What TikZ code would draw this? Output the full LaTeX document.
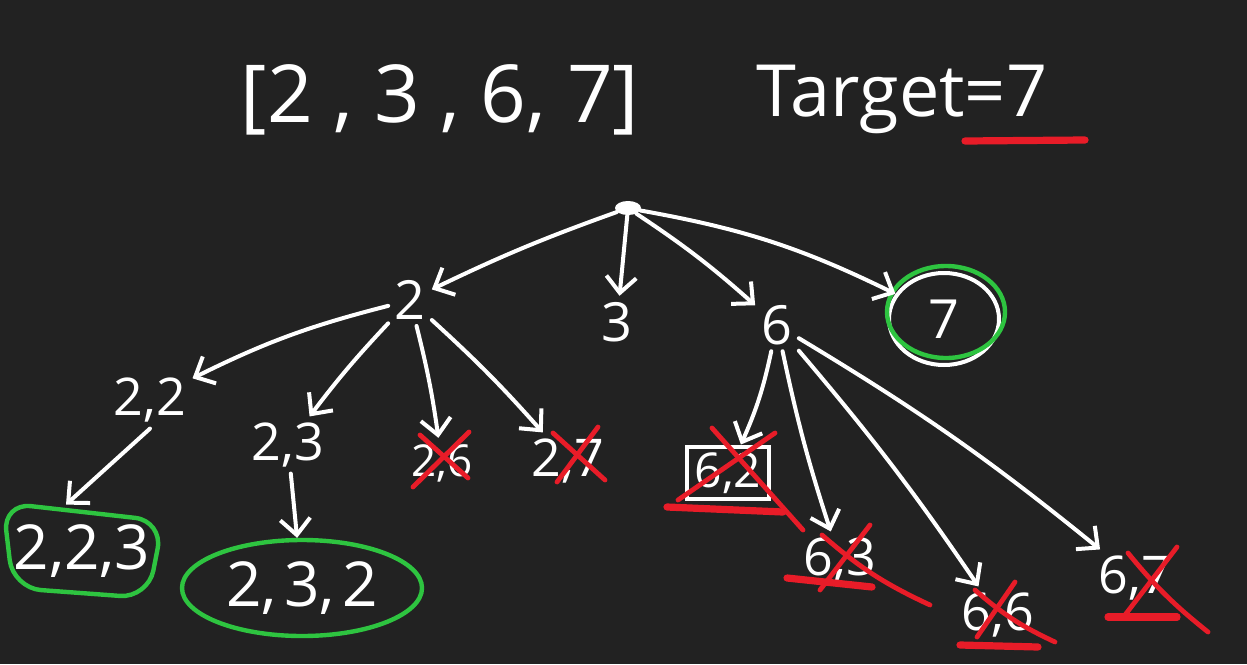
\documentclass[tikz,border=0pt]{standalone}
\usepackage{fontspec}
\setmainfont{Open Sans}
\usetikzlibrary{arrows.meta,shapes.geometric}
\definecolor{bg}{RGB}{34,34,34}
\definecolor{gr}{RGB}{46,196,64}
\definecolor{rd}{RGB}{232,28,40}
\begin{document}
\begin{tikzpicture}[x=0.5pt,y=-0.5pt,
  lbl/.style={text=white, inner sep=3pt},
  arr/.style={draw=white, line width=2pt, line cap=round,
    -{Straight Barb[length=8pt,width=15pt,line width=2pt]}},
  cross/.style={draw=rd, line width=2.4pt, line cap=round},
  uline/.style={draw=rd, line width=3.6pt, line cap=round},
  ring/.style={draw=gr, line width=2.2pt},
  big/.style={font=\fontsize{40}{44}\selectfont},
  tgt/.style={font=\fontsize{36}{40}\selectfont},
  lvone/.style={font=\fontsize{27}{30}\selectfont},
  lvtwo/.style={font=\fontsize{26}{30}\selectfont},
  lvthree/.style={font=\fontsize{31}{34}\selectfont}]
\fill[bg] (0,0) rectangle (1247,664);
\useasboundingbox (0,0) rectangle (1247,664);

% header
\node[lbl,big,anchor=base] (list) at (440,122) {[2 , 3 , 6, 7]};
\node[lbl,tgt,anchor=base] (target) at (902,116) {Target=7};
\draw[uline] (965,141) -- (1085,140);

% root
\node[fill=white, ellipse, minimum width=13pt, minimum height=7pt, inner sep=0pt] (root) at (628,208) {};

% level 1
\node[lbl,lvone] (n2) at (410,300) {2};
\node[lbl,lvone] (n3) at (617,322) {3};
\node[lbl,lvone] (n6) at (777,325) {6};
\node[lbl,lvone, ellipse, draw=white, line width=2pt, minimum width=55pt, minimum height=46pt] (n7) at (944,319) {7};
\draw[ring] (946,312) ellipse [x radius=59, y radius=46];

% level 2
\node[lbl,lvtwo] (n22) at (150,400) {2,2};
\node[lbl,lvtwo] (n23) at (288,445) {2,3};
\node[lbl,font=\fontsize{22}{26}\selectfont] (n26) at (442,463) {2,6};
\node[lbl,lvtwo] (n27) at (568,461) {2,7};
\node[lbl,font=\fontsize{24}{28}\selectfont, draw=white, line width=2pt,
      minimum width=41pt, minimum height=24pt] (n62) at (728,473) {6,2};
\node[lbl,lvtwo] (n63) at (840,560) {6,3};
\node[lbl,lvtwo] (n66) at (998,615) {6,6};
\node[lbl,lvtwo] (n67) at (1135,578) {6,7};

% level 3
\node[lbl,lvthree, minimum width=80pt, minimum height=46pt] (n223) at (82,551) {2,2,3};
\node[lbl,lvthree, ellipse, ring, minimum width=120pt, minimum height=48pt] (n232) at (302,588) {2,\hspace{0.12em}3,\hspace{0.12em}2};
\draw[ring, rounded corners=14pt] (3,503) -- (163,521) -- (148,598) -- (13,588) -- cycle;

% arrows from root
\draw[arr] (root) to[bend right=3] (n2);
\draw[arr] (root) -- (n3);
\draw[arr] (root) to[bend left=4] (n6);
\draw[arr] (root) to[bend left=8] (n7);

% arrows from 2
\draw[arr] (n2) to[bend right=6] (n22);
\draw[arr] (n2) to[bend right=3] (n23);
\draw[arr] (n2) to[bend left=3] (n26);
\draw[arr] (n2) to[bend left=3] (n27);

% arrows from 6
\draw[arr] (n6) to[bend left=6] (n62);
\draw[arr] (n6) to[bend right=3] (n63);
\draw[arr] (n6) to[bend left=3] (n66);
\draw[arr] (n6) to[bend left=4] (n67);

% arrows to level 3
\draw[arr] (n22.south) -- ([xshift=-8pt]n223.north);
\draw[arr] (n23) -- (n232);

% red crosses and underlines
\draw[cross] (413,487) -- (469,432);
\draw[cross] (420,435) -- (468,478);
\draw[cross] (557,482) -- (598,427);
\draw[cross] (553,433) -- (605,480);
\draw[cross] (712,428) -- (803,530);
\draw[cross] (678,500) -- (775,433);
\draw[uline] (667,507) -- (783,512);
\draw[cross] (822,535) to[bend right=8] (930,605);
\draw[cross] (820,590) -- (870,525);
\draw[uline] (787,578) -- (872,587);
\draw[cross] (975,590) to[bend right=8] (1055,642);
\draw[cross] (977,637) -- (1015,582);
\draw[uline] (960,645) -- (1038,647);
\draw[cross] (1128,553) to[bend right=6] (1208,632);
\draw[cross] (1125,615) -- (1177,547);
\draw[uline] (1108,617) -- (1177,617);
\end{tikzpicture}
\end{document}
